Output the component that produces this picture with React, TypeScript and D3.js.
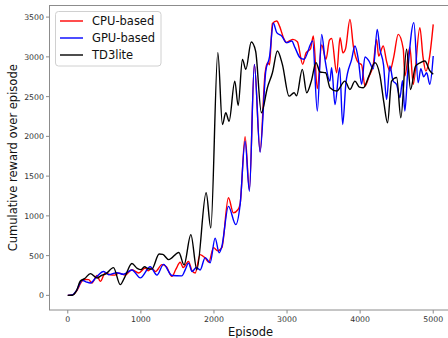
import React from "react";
import * as d3 from "d3";

const seriesNames = ["CPU-based", "GPU-based", "TD3lite"];
const seriesColors = ["#ff0000", "#0000ff", "#000000"];

const cpuData: [number, number][] = [
  [0, 0], [60, 5], [120, 55], [197, 180], [250, 200], [286, 198], [331, 156], [400, 250], [445, 176], [512, 282],
  [580, 260], [640, 255], [700, 280], [787, 255], [878, 323], [970, 282], [1060, 345], [1100, 310], [1150, 340],
  [1200, 300], [1288, 387], [1350, 360], [1424, 239], [1480, 330], [1538, 416], [1580, 350], [1652, 428],
  [1697, 315], [1743, 282], [1811, 513], [1880, 470], [1930, 420], [1994, 600], [2050, 560], [2108, 600],
  [2198, 1227], [2266, 1038], [2330, 1080], [2358, 1150], [2426, 1995], [2485, 1330], [2553, 2906], [2631, 1810],
  [2700, 2800], [2736, 2927], [2760, 2900], [2800, 3420], [2859, 3451], [2900, 3380], [2955, 3230], [2990, 3180],
  [3032, 3200], [3080, 3220], [3141, 3190], [3214, 2906], [3260, 3050], [3320, 3100], [3360, 3262], [3414, 2600],
  [3474, 3150], [3533, 2969], [3580, 3210], [3610, 3230], [3679, 2800], [3725, 3241], [3765, 3050], [3800, 3100],
  [3861, 3472], [3907, 3136], [3975, 2927], [4020, 2900], [4066, 2633], [4120, 2750], [4180, 2906], [4225, 3220],
  [4253, 3010], [4316, 3136], [4360, 2950], [4407, 2821], [4460, 3000], [4521, 3283], [4590, 3100], [4612, 2760],
  [4680, 3120], [4727, 2654], [4817, 3368], [4860, 3000], [4899, 2821], [4950, 3000], [5000, 3409],
];

const gpuData: [number, number][] = [
  [0, 0], [60, 5], [120, 60], [197, 190], [250, 170], [309, 155], [400, 240], [490, 300], [560, 260], [673, 285],
  [760, 265], [878, 320], [992, 220], [1128, 360], [1220, 255], [1310, 390], [1424, 250], [1560, 245], [1606, 320],
  [1652, 405], [1700, 300], [1760, 350], [1811, 320], [1880, 475], [1948, 410], [2016, 720], [2071, 535],
  [2108, 615], [2198, 1120], [2299, 890], [2358, 1140], [2426, 1940], [2485, 1310], [2553, 2906], [2631, 1800],
  [2709, 2820], [2760, 3000], [2813, 3422], [2859, 3305], [2927, 3262], [2995, 3179], [3064, 3200], [3109, 3116],
  [3177, 2990], [3232, 2969], [3351, 3200], [3414, 2318], [3474, 3283], [3519, 2969], [3586, 2695], [3610, 2863],
  [3656, 2401], [3720, 2863], [3761, 2150], [3806, 2675], [3884, 2969], [3929, 3136], [3975, 2969], [4020, 2654],
  [4066, 3000], [4120, 2950], [4180, 2850], [4234, 3346], [4270, 3100], [4320, 2900], [4362, 2465], [4407, 2885],
  [4450, 2700], [4500, 2650], [4544, 2486], [4580, 2700], [4612, 2318], [4650, 2800], [4735, 3431], [4794, 2675],
  [4830, 2850], [4870, 2750], [4910, 2800], [4954, 2654], [5000, 3010],
];

const td3Data: [number, number][] = [
  [0, 0], [60, 2], [120, 60], [172, 180], [230, 210], [309, 273], [400, 219], [460, 250], [520, 270], [625, 349],
  [718, 135], [780, 230], [878, 400], [950, 340], [1000, 324], [1050, 360], [1100, 335], [1150, 330], [1250, 520],
  [1300, 515], [1380, 450], [1520, 540], [1590, 383], [1684, 764], [1766, 323], [1893, 1290], [1957, 849],
  [2053, 3053], [2116, 2150], [2162, 2297], [2207, 2191], [2285, 2695], [2331, 2389], [2390, 2968], [2436, 2842],
  [2510, 3186], [2570, 3073], [2649, 2297], [2731, 2612], [2800, 2800], [2868, 3073], [2936, 2906], [3027, 2506],
  [3096, 2549], [3130, 2510], [3209, 2842], [3269, 2549], [3332, 2695], [3396, 2927], [3451, 2810], [3528, 2800],
  [3588, 2612], [3679, 2570], [3792, 2695], [3861, 2590], [3929, 2695], [3990, 2620], [4043, 2612], [4120, 2758],
  [4202, 2927], [4270, 2770], [4325, 2423], [4375, 2171], [4430, 2695], [4500, 2740], [4557, 2234], [4635, 3095],
  [4690, 2590], [4758, 2884], [4826, 2927], [4886, 2947], [4950, 2830], [5000, 2780],
];

const allSeries = [cpuData, gpuData, td3Data];
const xTicks = [0, 1000, 2000, 3000, 4000, 5000];
const yTicks = [0, 500, 1000, 1500, 2000, 2500, 3000, 3500];

const W = 448;
const H = 338;
const left = 49.5;
const right = 451.5;
const top = 5.5;
const bottom = 310;

export default function App() {
  const x = d3.scaleLinear().domain([-250, 5250]).range([left, right]);
  const y = d3.scaleLinear().domain([-184, 3646]).range([bottom, top]);
  const line = d3
    .line<[number, number]>()
    .x((d) => x(d[0]))
    .y((d) => y(d[1]))
    .curve(d3.curveMonotoneX);
  const font = "DejaVu Sans, sans-serif";
  const spine = "#8c8c8c";
  return (
    <svg
      width={W}
      height={H}
      style={{ position: "absolute", left: 0, top: 0, background: "#fff" }}
      fontFamily={font}
    >
      <defs>
        <clipPath id="plotclip">
          <rect x={left} y={top} width={right - left} height={bottom - top} />
        </clipPath>
      </defs>
      <rect x={0} y={0} width={W} height={H} fill="#fff" />
      <g clipPath="url(#plotclip)">
        {allSeries.map((s, i) => (
          <path key={i} d={line(s) || ""} fill="none" stroke={seriesColors[i]} strokeWidth={1.4} strokeLinejoin="round" />
        ))}
      </g>
      <rect x={left} y={top} width={right - left} height={bottom - top} fill="none" stroke={spine} strokeWidth={1} />
      {xTicks.map((t) => (
        <g key={t}>
          <line x1={x(t)} x2={x(t)} y1={bottom} y2={bottom + 3.5} stroke={spine} strokeWidth={1} />
          <text x={x(t)} y={322} fontSize={7.8} textAnchor="middle" fill="#333">
            {t}
          </text>
        </g>
      ))}
      {yTicks.map((t) => (
        <g key={t}>
          <line x1={left - 3.5} x2={left} y1={y(t)} y2={y(t)} stroke={spine} strokeWidth={1} />
          <text x={44} y={y(t) + 3} fontSize={7.8} textAnchor="end" fill="#333">
            {t}
          </text>
        </g>
      ))}
      <text x={(left + right) / 2} y={335.5} fontSize={11.5} textAnchor="middle" fill="#111">
        Episode
      </text>
      <text
        transform={`translate(16.5, ${(top + bottom) / 2}) rotate(-90)`}
        fontSize={11.5}
        textAnchor="middle"
        fill="#111"
      >
        Cumulative reward over episode
      </text>
      <rect x={55.5} y={11.5} width={105.5} height={54.5} rx={3} fill="#fff" fillOpacity={0.85} stroke="#d0d0d0" strokeWidth={1} />
      {seriesNames.map((n, i) => (
        <g key={n}>
          <line x1={60} x2={83} y1={21 + i * 17} y2={21 + i * 17} stroke={seriesColors[i]} strokeWidth={1.4} />
          <text x={92} y={21 + i * 17 + 4.2} fontSize={11.5} fill="#111">
            {n}
          </text>
        </g>
      ))}
    </svg>
  );
}
